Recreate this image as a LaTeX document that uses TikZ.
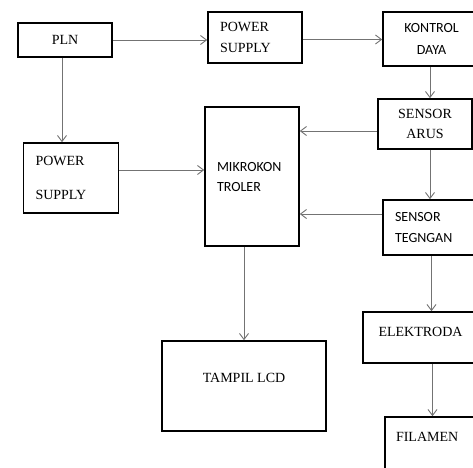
\documentclass[tikz,border=0pt]{standalone}
\usepackage{fontspec}
\setmainfont{Liberation Serif}
\newfontfamily\sansblok{Carlito}
\usepackage{tikz}
\usetikzlibrary{arrows.meta}
\usetikzlibrary{positioning}

\begin{document}
\begin{tikzpicture}[x=1pt, y=-1pt,
    blok/.style={draw=black, line width=1.6pt, fill=white, inner sep=0pt,
      font=\fontsize{14}{21}\selectfont},
    kiri/.style={align=left, inner xsep=12pt},
    panah/.style={draw=black!55, line width=1pt,
      -{Straight Barb[length=6pt, width=9pt, line width=0.9pt]}}]
  % ===== Canvas =====
  \useasboundingbox (0,0) rectangle (473,467);
  \clip (0,0) rectangle (473,467);
  \fill[white] (0,0) rectangle (473,467);

  % ===== Blocks, left column =====
  \node[blok, minimum width=94pt, minimum height=34pt] (pln) at (65,40) {PLN};
  \node[blok, kiri, text width=71pt, minimum height=70pt,
    font=\fontsize{14}{34}\selectfont] (psdua) at (71,178) {POWER\\SUPPLY};

  % ===== Blocks, middle column =====
  \node[blok, kiri, text width=70pt, minimum height=51pt] (pssatu) at (255,37.5) {POWER\\SUPPLY};
  \node[blok, kiri, text width=70pt, minimum height=139pt,
    font=\sansblok\fontsize{14}{20}\selectfont] (mikro) at (252,176.5) {MIKROKON\\TROLER};
  \node[blok, minimum width=164pt, minimum height=90pt, text depth=16pt] (lcd) at (244,386) {TAMPIL LCD};

  % ===== Blocks, right column =====
  \node[blok, align=center, minimum width=97pt, minimum height=54pt,
    font=\sansblok\fontsize{14}{22}\selectfont] (kontrol) at (431.5,39) {KONTROL\\DAYA};
  \node[blok, align=center, minimum width=94pt, minimum height=50pt,
    font=\fontsize{14}{20}\selectfont] (arus) at (425,124) {SENSOR\\ARUS};
  \node[blok, kiri, text width=73pt, minimum height=55pt,
    font=\sansblok\fontsize{14}{21}\selectfont] (tegangan) at (431.5,227.5) {SENSOR\\TEGNGAN};
  \node[blok, minimum width=115pt, minimum height=51pt, text depth=11pt] (elektroda) at (420.5,337.5) {ELEKTRODA};
  \node[blok, kiri, inner xsep=11pt, text width=73pt, minimum height=78pt,
    text depth=38pt] (filamen) at (432.5,456) {FILAMEN};

  % ===== Arrows =====
  \draw[panah] (pln.east) -- (pln.east -| pssatu.west);
  \draw[panah] ([xshift=-3pt]pln.south) -- ([xshift=-3pt]pln.south |- psdua.north);
  \draw[panah] ([yshift=-2pt]pssatu.east) -- ([yshift=-2pt]pssatu.east -| kontrol.west);
  \draw[panah] ([xshift=-1.5pt]kontrol.south) -- ([xshift=-1.5pt]kontrol.south |- arus.north);
  \draw[panah] ([yshift=-7pt]arus.west) -- ([yshift=-7pt]arus.west -| mikro.east);
  \draw[panah] ([xshift=5pt]arus.south) -- ([xshift=5pt]arus.south |- tegangan.north);
  \draw[panah] ([yshift=13.5pt]tegangan.west) -- ([yshift=13.5pt]tegangan.west -| mikro.east);
  \draw[panah] ([yshift=8pt]psdua.east) -- ([yshift=8pt]psdua.east -| mikro.west);
  \draw[panah] (mikro.south -| lcd.north) -- (lcd.north);
  \draw[panah] (tegangan.south) -- (tegangan.south |- elektroda.north);
  \draw[panah] (filamen.north |- elektroda.south) -- (filamen.north);
\end{tikzpicture}
\end{document}
